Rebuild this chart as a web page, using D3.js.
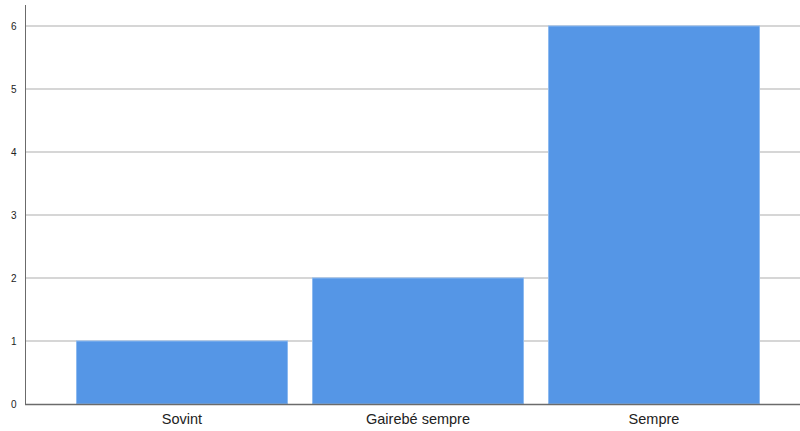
<!DOCTYPE html>
<html>
<head>
<meta charset="utf-8">
<script src="https://cdn.jsdelivr.net/npm/d3@7"></script>
<style>
  html, body { margin: 0; padding: 0; background: #fff; }
  svg { display: block; }
</style>
</head>
<body>
<svg id="chart" width="800" height="431"></svg>
<script>
const categories = ["Sovint", "Gairebé sempre", "Sempre"];
const counts = [1, 2, 6];
const yTicks = [0, 1, 2, 3, 4, 5, 6];

const W = 800, H = 431;
const svg = d3.select("#chart");
const axisX = 25.5, baseY = 404;

const y = d3.scaleLinear().domain([0, 6]).range([baseY, 26]);
const x = d3.scaleBand().domain(categories).range([52, 784]).paddingInner(0.1017).paddingOuter(0.1017);

// gridlines
svg.append("g").selectAll("line").data(yTicks.filter(d => d > 0)).join("line")
  .attr("x1", axisX).attr("x2", W)
  .attr("y1", d => y(d)).attr("y2", d => y(d))
  .attr("stroke", "#d6d6d6").attr("stroke-width", 2);

// bars
svg.append("g").selectAll("rect").data(categories).join("rect")
  .attr("x", d => x(d) + 0.5)
  .attr("y", (d, i) => y(counts[i]))
  .attr("width", x.bandwidth() - 1)
  .attr("height", (d, i) => baseY - y(counts[i]))
  .attr("fill", "#5596e6")
  .attr("stroke", "#8dbaf0").attr("stroke-width", 1);

// y axis
const yAxis = d3.axisLeft(y).tickValues(yTicks).tickSize(0).tickPadding(9).tickFormat(d3.format("d"));
const gy = svg.append("g").attr("transform", `translate(${axisX},0)`).call(yAxis);
gy.select(".domain").remove();
gy.selectAll("text").attr("font-family", "Liberation Sans, Arial, sans-serif").attr("font-size", 10).attr("fill", "#222");
svg.append("line").attr("x1", axisX).attr("x2", axisX).attr("y1", 5).attr("y2", baseY)
  .attr("stroke", "#6b6b6b").attr("stroke-width", 1);

// x axis
const xAxis = d3.axisBottom(x).tickSize(0).tickPadding(10);
const gx = svg.append("g").attr("transform", `translate(0,${baseY})`).call(xAxis);
gx.select(".domain").remove();
gx.selectAll("text").attr("font-family", "Liberation Sans, Arial, sans-serif").attr("font-size", 14.5).attr("fill", "#222");
svg.append("line").attr("x1", axisX - 0.5).attr("x2", W).attr("y1", baseY + 0.5).attr("y2", baseY + 0.5)
  .attr("stroke", "#6b6b6b").attr("stroke-width", 1.5);
</script>
</body>
</html>
